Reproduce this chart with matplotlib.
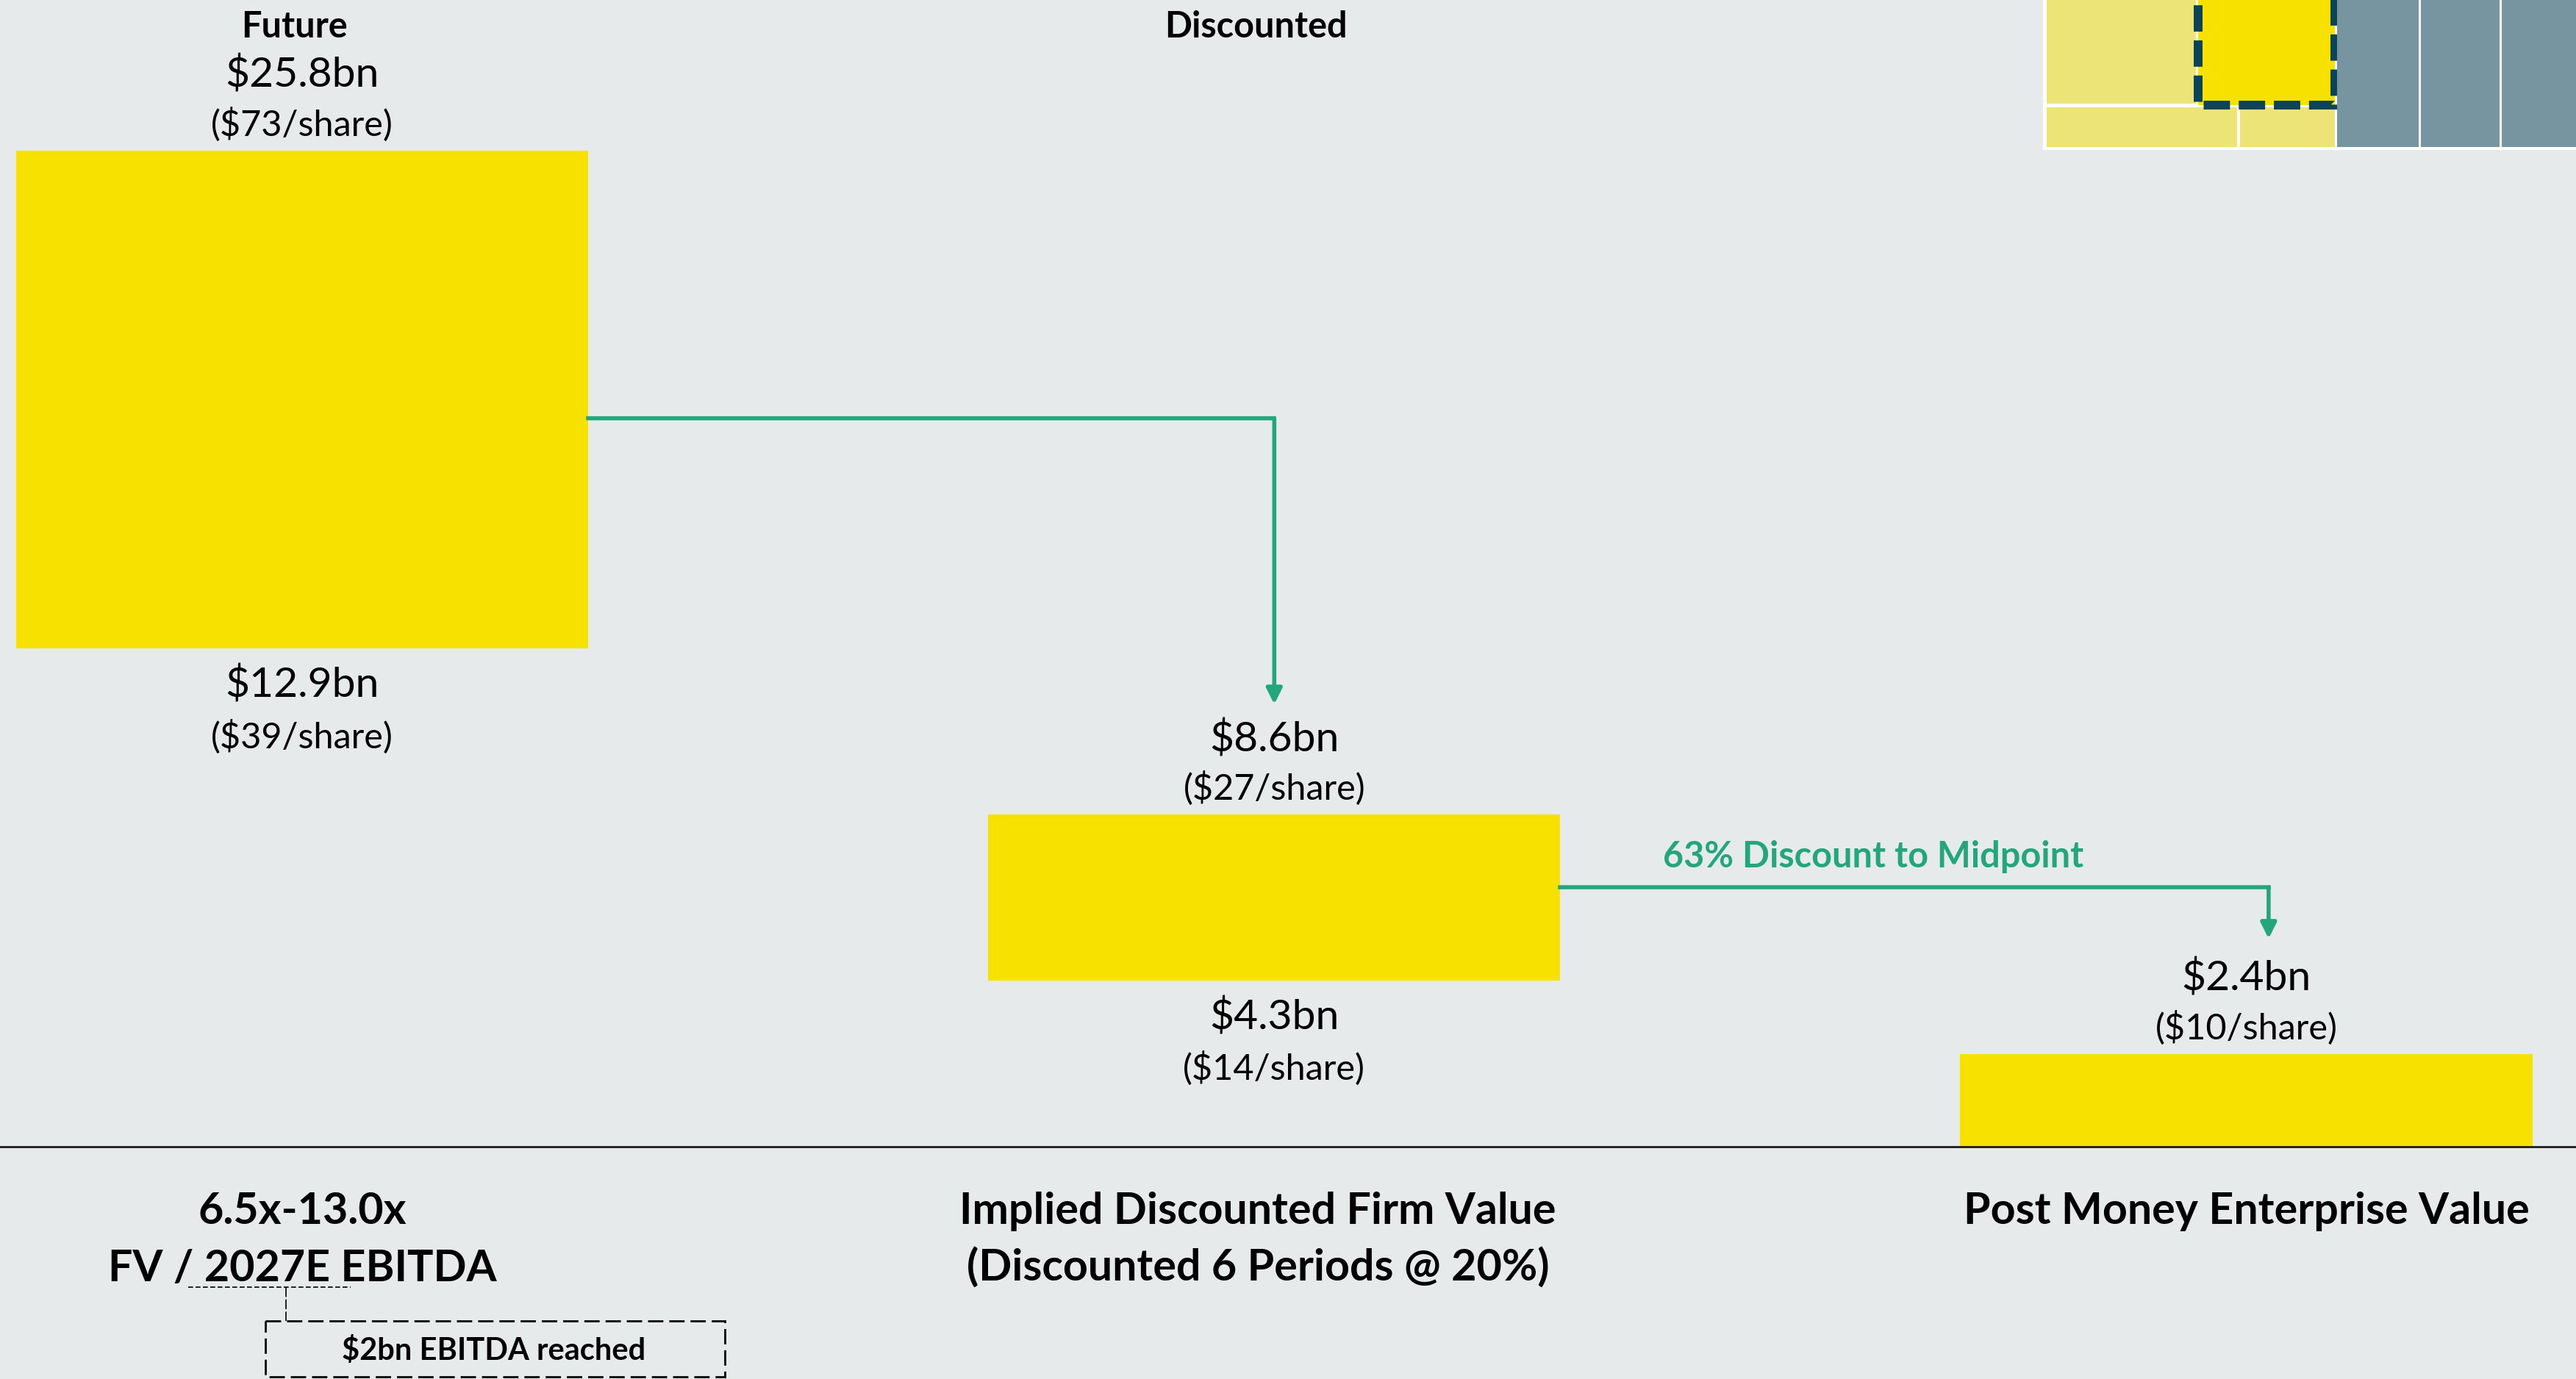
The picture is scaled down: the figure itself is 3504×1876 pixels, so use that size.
import matplotlib.pyplot as plt
from matplotlib.patches import Rectangle

plt.rcParams["font.family"] = ["Lato", "DejaVu Sans"]
plt.rcParams["text.parse_math"] = False

# Valuation bridge (USD bn), each bar floats from low to high
stages = ["Future", "Discounted", "Post Money"]
low_vals = [12.9, 4.3, 0.0]
high_vals = [25.8, 8.6, 2.4]
high_share = ["($73/share)", "($27/share)", "($10/share)"]
low_share = ["($39/share)", "($14/share)", ""]
headers = ["Future", "Discounted"]
bottom_line1 = ["6.5x-13.0x", "Implied Discounted Firm Value", "Post Money Enterprise Value"]
bottom_line2 = ["FV / 2027E EBITDA", "(Discounted 6 Periods @ 20%)", ""]
discount_label = "63% Discount to Midpoint"
note_label = "$2bn EBITDA reached"

# Elbow connectors: level leaving the bar, x of the drop, arrow tip
arrow_level = [18.86, 6.72]
arrow_x = [1.0, 2.023]
arrow_tip = [11.46, 5.39]

BG = "#E7EAEB"
YELLOW = "#F7E100"
LIGHT_Y = "#EDE478"
SLATE = "#7695A0"
TEAL = "#0B4459"
GREEN = "#24A67D"

fig = plt.figure(figsize=(17.525, 9.38), dpi=200)
fig.patch.set_facecolor(BG)

ax = fig.add_axes([0, 0, 1, 1])
ax.set_facecolor("none")
ax.set_xlim(-0.311, 2.340)
ax.set_ylim(-6.016, 29.70)
ax.axis("off")

px = 1 / 52.53  # one output pixel in bn
bar_w = 0.5885
x = list(range(len(stages)))
heights = [h - l for h, l in zip(high_vals, low_vals)]
ax.bar(x, heights, bottom=low_vals, width=bar_w, color=YELLOW, zorder=2)
ax.axhline(0, color="#1c1c1c", lw=1.0, zorder=3)

# Value labels above and below each bar
for i in x:
    ax.text(i, high_vals[i] + 86 * px, f"${high_vals[i]}bn", ha="center",
            va="baseline", fontsize=20.5)
    ax.text(i, high_vals[i] + 20 * px, high_share[i], ha="center",
            va="baseline", fontsize=17.5)
    if low_vals[i] > 0:
        ax.text(i, low_vals[i] - 66 * px, f"${low_vals[i]}bn", ha="center",
                va="baseline", fontsize=20.5)
        ax.text(i, low_vals[i] - 135 * px, low_share[i], ha="center",
                va="baseline", fontsize=17.5)

# Column headers and category labels
header_x = [-0.008, 0.981]
for hx, h in zip(header_x, headers):
    ax.text(hx, 28.72, h, ha="center", va="baseline", fontsize=17.5,
            fontweight="bold")

label_x = [0.0, 0.983, 2.0]
for lx, l1, l2 in zip(label_x, bottom_line1, bottom_line2):
    ax.text(lx, -2.0, l1, ha="center", va="baseline", fontsize=21.3,
            fontweight="bold")
    if l2:
        ax.text(lx, -3.48, l2, ha="center", va="baseline", fontsize=21.3,
                fontweight="bold")

# Green elbow arrows
for i in range(2):
    ax.plot([i + bar_w / 2, arrow_x[i]], [arrow_level[i]] * 2, color=GREEN,
            lw=2.0, solid_capstyle="projecting", zorder=3)
    ax.annotate("", xy=(arrow_x[i], arrow_tip[i]),
                xytext=(arrow_x[i], arrow_level[i]),
                arrowprops=dict(arrowstyle="-|>", color=GREEN, lw=2.0,
                                shrinkA=0, shrinkB=0, mutation_scale=16),
                zorder=3)

ax.text(1.616, 7.23, discount_label, ha="center", va="baseline",
        fontsize=17.5, fontweight="bold", color=GREEN)

# Overlay in pixel units for the thumbnail and the note box
ov = fig.add_axes([0, 0, 1, 1], zorder=3)
ov.patch.set_alpha(0)
ov.set_xlim(0, 3505)
ov.set_ylim(1876, 0)
ov.axis("off")

ov.add_patch(Rectangle((2779, -10), 740, 214, fc="white", ec="none"))
icon_cells = [
    (2784, 0, 2987, 141, LIGHT_Y),
    (2990, 0, 3176, 143, YELLOW),
    (2784, 146, 3043, 200, LIGHT_Y),
    (3047, 146, 3176, 200, LIGHT_Y),
]
for x0, y0, x1, y1, c in icon_cells:
    ov.add_patch(Rectangle((x0, y0), x1 - x0, y1 - y0, fc=c, ec="none"))
ov.add_patch(Rectangle((2990, -30), 186, 173, fill=False, ec=TEAL, lw=4.3,
                       linestyle=(0, (3, 1))))
slate_cells = [(3179, 3290), (3293, 3400), (3403, 3520)]
for x0, x1 in slate_cells:
    ov.add_patch(Rectangle((x0, 0), x1 - x0, 200, fc=SLATE, ec="none"))

# Note box under the EBITDA multiple
ov.plot([256, 477], [1751, 1751], color="black", lw=0.6, ls=(0, (4, 2)))
ov.plot([389, 389], [1751, 1797], color="black", lw=0.6, ls=(0, (8, 2)))
ov.add_patch(Rectangle((361, 1797), 625, 76, fill=False, ec="black", lw=1.0,
                       linestyle=(0, (7.5, 2.9))))
ov.text(672, 1850, note_label, ha="center", va="baseline", fontsize=15,
        fontweight="bold")

fig.savefig("out.png", dpi=200, facecolor=BG)
